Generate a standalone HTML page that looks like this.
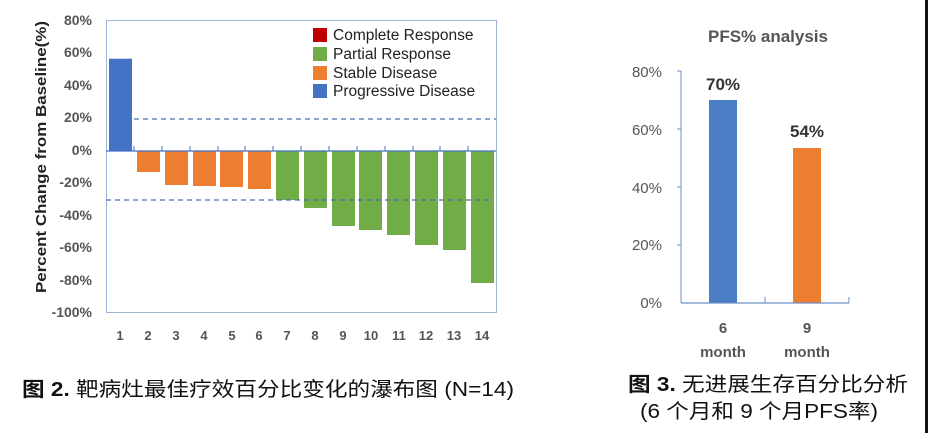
<!DOCTYPE html>
<html><head><meta charset="utf-8"><style>
html,body{margin:0;padding:0;background:#fff;width:928px;height:433px;overflow:hidden}
svg{display:block}
text{font-family:"Liberation Sans","Noto Sans CJK SC",sans-serif}
</style></head><body>
<svg width="928" height="433" viewBox="0 0 928 433" xmlns="http://www.w3.org/2000/svg">
<rect x="925" y="0" width="3" height="433" fill="#111"/>
<rect x="106.5" y="20.5" width="390" height="292" fill="none" stroke="#9fb3d6" stroke-width="1"/>
<g font-size="14" font-weight="bold" fill="#555" text-anchor="end">
<text x="92" y="25">80%</text><text x="92" y="57">60%</text><text x="92" y="90">40%</text>
<text x="92" y="122">20%</text><text x="92" y="155">0%</text><text x="92" y="187">-20%</text>
<text x="92" y="220">-40%</text><text x="92" y="252">-60%</text><text x="92" y="285">-80%</text>
<text x="92" y="317">-100%</text>
</g>
<text transform="translate(46,157) rotate(-90)" font-size="15" font-weight="bold" fill="#222" text-anchor="middle" textLength="272" lengthAdjust="spacingAndGlyphs">Percent Change from Baseline(%)</text>
<g>
<rect x="109" y="58.7" width="23" height="92.3" fill="#4472c4"/>
<rect x="137" y="151" width="23" height="21" fill="#ed7d31"/>
<rect x="165" y="151" width="23" height="34" fill="#ed7d31"/>
<rect x="193" y="151" width="23" height="35" fill="#ed7d31"/>
<rect x="220" y="151" width="23" height="36" fill="#ed7d31"/>
<rect x="248" y="151" width="23" height="38" fill="#ed7d31"/>
<rect x="276" y="151" width="23" height="49" fill="#70ad47"/>
<rect x="304" y="151" width="23" height="57" fill="#70ad47"/>
<rect x="332" y="151" width="23" height="75" fill="#70ad47"/>
<rect x="359" y="151" width="23" height="79" fill="#70ad47"/>
<rect x="387" y="151" width="23" height="84" fill="#70ad47"/>
<rect x="415" y="151" width="23" height="94" fill="#70ad47"/>
<rect x="443" y="151" width="23" height="99" fill="#70ad47"/>
<rect x="471" y="151" width="23" height="132" fill="#70ad47"/>
</g>
<line x1="106" y1="151" x2="496" y2="151" stroke="#4472c4" stroke-width="1.2"/>
<g stroke="#4472c4" stroke-width="1">
<line x1="134" y1="146" x2="134" y2="151"/><line x1="162" y1="146" x2="162" y2="151"/><line x1="190" y1="146" x2="190" y2="151"/><line x1="218" y1="146" x2="218" y2="151"/><line x1="245" y1="146" x2="245" y2="151"/><line x1="273" y1="146" x2="273" y2="151"/><line x1="301" y1="146" x2="301" y2="151"/><line x1="329" y1="146" x2="329" y2="151"/><line x1="357" y1="146" x2="357" y2="151"/><line x1="385" y1="146" x2="385" y2="151"/><line x1="413" y1="146" x2="413" y2="151"/><line x1="440" y1="146" x2="440" y2="151"/><line x1="468" y1="146" x2="468" y2="151"/>
</g>
<line x1="134" y1="119" x2="496" y2="119" stroke="#4a6fb0" stroke-width="1.2" stroke-dasharray="5,4"/>
<line x1="106" y1="200" x2="492" y2="200" stroke="#4a6fb0" stroke-width="1.2" stroke-dasharray="5,4"/>
<g font-size="15.5" fill="#222">
<rect x="313" y="28" width="14" height="14" fill="#c00000"/><text x="333" y="40">Complete Response</text>
<rect x="313" y="47" width="14" height="14" fill="#70ad47"/><text x="333" y="59">Partial Response</text>
<rect x="313" y="66" width="14" height="14" fill="#ed7d31"/><text x="333" y="78">Stable Disease</text>
<rect x="313" y="84" width="14" height="14" fill="#4472c4"/><text x="333" y="96">Progressive Disease</text>
</g>
<g font-size="13" font-weight="bold" fill="#555" text-anchor="middle">
<text x="120" y="340">1</text><text x="148" y="340">2</text><text x="176" y="340">3</text><text x="204" y="340">4</text><text x="232" y="340">5</text><text x="259" y="340">6</text><text x="287" y="340">7</text><text x="315" y="340">8</text><text x="343" y="340">9</text><text x="371" y="340">10</text><text x="399" y="340">11</text><text x="426" y="340">12</text><text x="454" y="340">13</text><text x="482" y="340">14</text>
</g>
<text x="22" y="396" font-size="20" fill="#111" textLength="492" lengthAdjust="spacingAndGlyphs"><tspan font-weight="bold">图 2.</tspan> 靶病灶最佳疗效百分比变化的瀑布图 (N=14)</text>
<text x="768" y="42" font-size="17" font-weight="bold" fill="#555" text-anchor="middle">PFS% analysis</text>
<g font-size="15" fill="#555" text-anchor="end">
<text x="662" y="77">80%</text><text x="662" y="135">60%</text><text x="662" y="193">40%</text><text x="662" y="250">20%</text><text x="662" y="308">0%</text>
</g>
<line x1="681" y1="71" x2="681" y2="303" stroke="#6f8fc4" stroke-width="1"/>
<g stroke="#6f8fc4" stroke-width="1">
<line x1="677" y1="71" x2="681" y2="71"/><line x1="677" y1="129" x2="681" y2="129"/><line x1="677" y1="187" x2="681" y2="187"/><line x1="677" y1="245" x2="681" y2="245"/>
<line x1="765" y1="297" x2="765" y2="303"/><line x1="849" y1="297" x2="849" y2="303"/>
</g>
<rect x="709" y="100" width="28" height="203" fill="#4a7dc4"/>
<rect x="793" y="148" width="28" height="155" fill="#ed7d31"/>
<line x1="681" y1="303" x2="849" y2="303" stroke="#6f8fc4" stroke-width="1.2"/>
<g font-size="17" font-weight="bold" fill="#333" text-anchor="middle">
<text x="723" y="90">70%</text><text x="807" y="137">54%</text>
</g>
<g font-size="15" font-weight="bold" fill="#555" text-anchor="middle">
<text x="723" y="333">6</text><text x="723" y="357">month</text>
<text x="807" y="333">9</text><text x="807" y="357">month</text>
</g>
<text x="628" y="391" font-size="20" fill="#111" textLength="280" lengthAdjust="spacingAndGlyphs"><tspan font-weight="bold">图 3.</tspan> 无进展生存百分比分析</text>
<text x="640" y="418" font-size="20" fill="#111" textLength="238" lengthAdjust="spacingAndGlyphs">(6 个月和 9 个月PFS率)</text>
</svg>
</body></html>
